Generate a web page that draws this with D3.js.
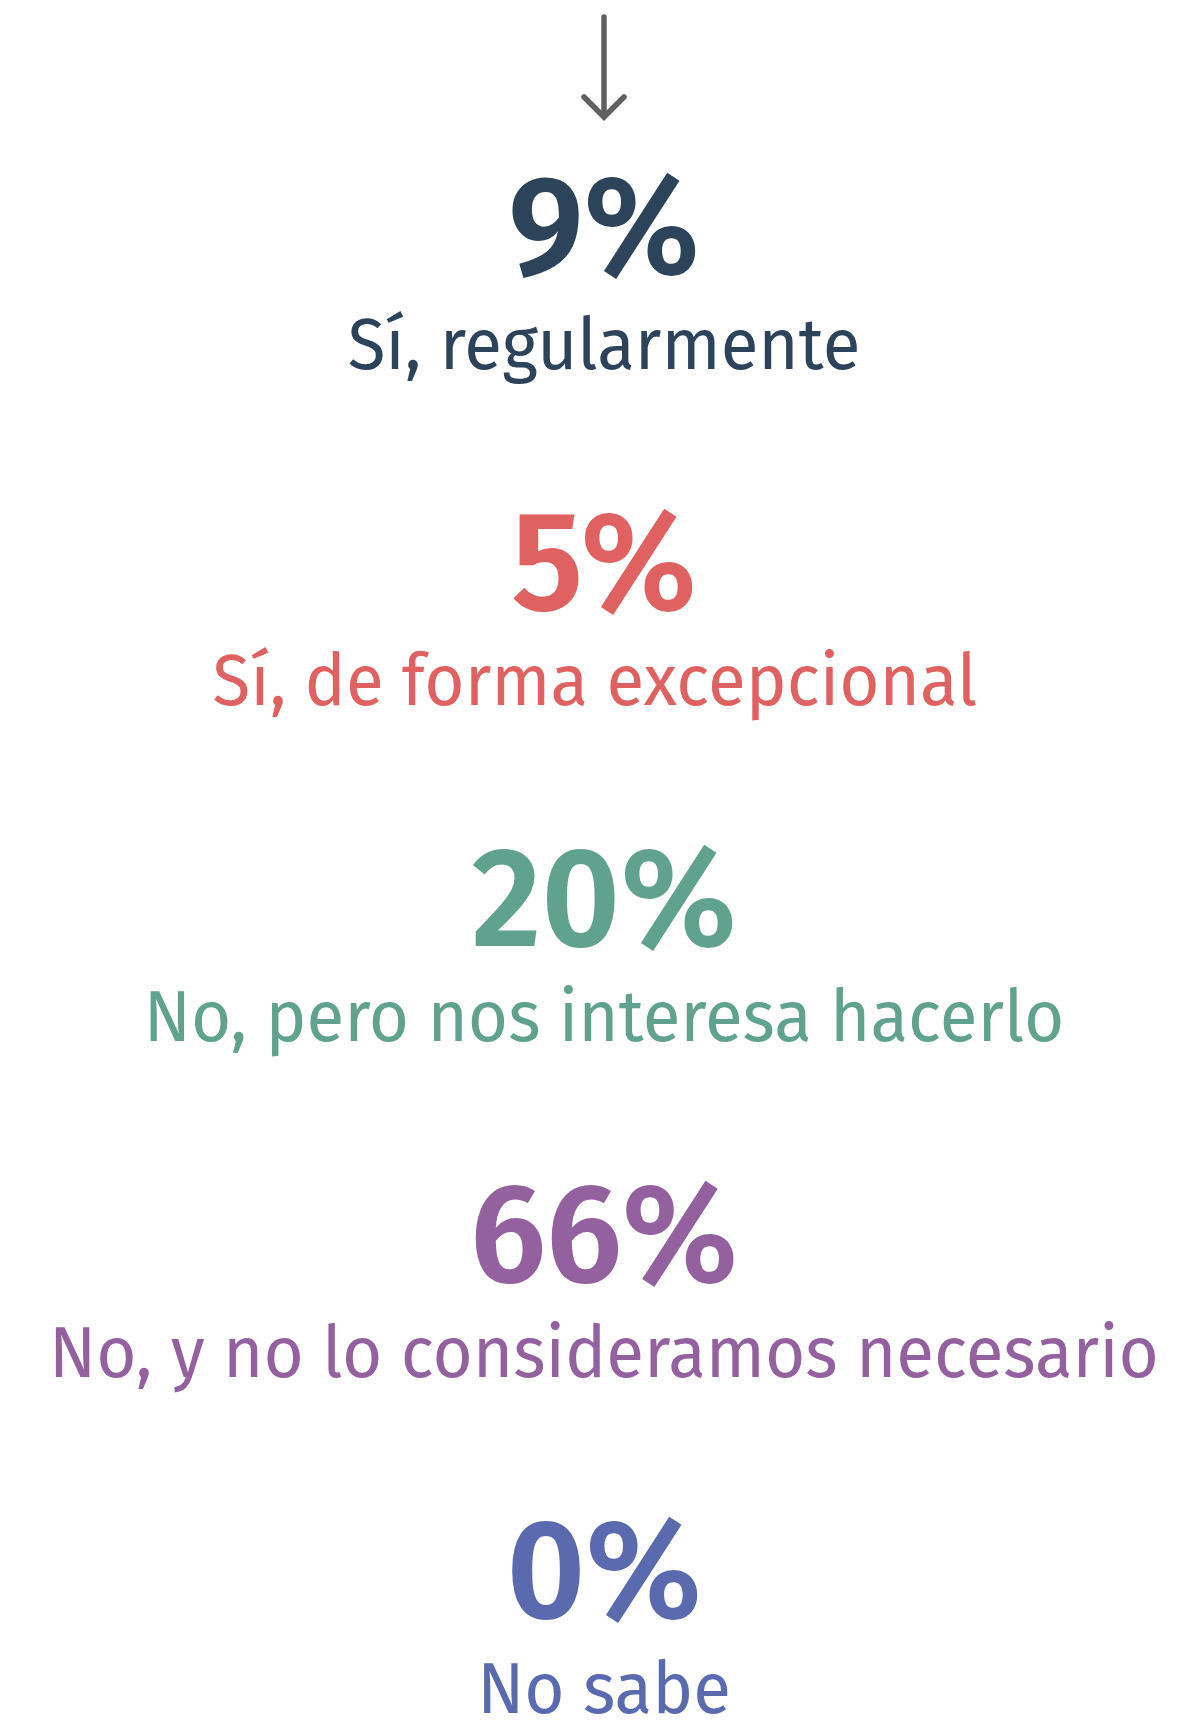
<!DOCTYPE html>
<html lang="es">
<head>
<meta charset="utf-8">
<title>Sí / No</title>
<script src="https://cdn.jsdelivr.net/npm/d3@7"></script>
<style>
    html, body { margin: 0; padding: 0; background: #fff; }
    #chart svg { display: block; }
    .pct { font-family: "Fira Sans", "Noto Sans", sans-serif; font-weight: 600; }
    .label { font-family: "Fira Sans", "Noto Sans", sans-serif; font-weight: 400; white-space: pre; }
</style>
</head>
<body>
<div id="chart"></div>
<script>
// Data (the second answer carries a trailing space in the source, which shifts it left a bit)
const answers = ["Sí, regularmente", "Sí, de forma excepcional\u00a0", "No, pero nos interesa hacerlo", "No, y no lo consideramos necesario", "No sabe"];
const shares = [9, 5, 20, 66, 0];
const palette = ["#2d4359", "#e06161", "#60a28d", "#93629e", "#5b6aae"];

const Chart = (function(window, d3) {
    const svgWidth = 1178,
        svgHeight = 1720,
        centerX = 604,
        labelGap = 95;
    // widest label / number in the reference, used to get the narrow typeface look
    const labelFit = 1110,
        pctFit = 268;

    const svg = d3.select("#chart")
        .append("svg")
        .attr("width", svgWidth)
        .attr("height", svgHeight);

    // vertical position of each block (baseline of the big number)
    const y = d3.scalePoint()
        .domain(answers)
        .range([274, 1618]);

    const color = d3.scaleOrdinal()
        .domain(answers)
        .range(palette);

    // Arrow on top
    const arrow = svg.append("g")
        .attr("stroke", "#5f5f5f")
        .attr("stroke-width", 5.5)
        .attr("stroke-linecap", "round")
        .attr("fill", "none");
    arrow.append("line")
        .attr("x1", centerX).attr("x2", centerX)
        .attr("y1", 17).attr("y2", 115);
    arrow.append("polyline")
        .attr("points", [[centerX - 20, 97], [centerX, 117], [centerX + 20, 97]].join(" "));

    const rows = answers.map(function(d, i) { return { answer: d, value: shares[i] }; });

    const block = svg.selectAll(".block")
        .data(rows)
        .join("g")
        .attr("class", "block")
        .attr("fill", function(d) { return color(d.answer); });

    // big number
    const pct = block.append("text")
        .attr("class", "pct")
        .attr("text-anchor", "middle")
        .attr("font-size", 140)
        .text(function(d) { return d.value + "%"; });

    // answer below
    const label = block.append("text")
        .attr("class", "label")
        .attr("text-anchor", "middle")
        .attr("font-size", 72.6)
        .text(function(d) { return d.answer; });

    // Function - squeeze texts horizontally so the widest one fits the reference width
    function fit(sel, target, dy) {
        const widest = d3.max(sel.nodes(), function(n) { return n.getComputedTextLength(); });
        const k = Math.min(1, target / widest);
        sel.attr("transform", function(d) {
            return `translate(${centerX},${y(d.answer) + dy}) scale(${k},1)`;
        });
    }

    fit(pct, pctFit, 0);
    fit(label, labelFit, labelGap);

    return { svg: svg };
})(window, d3);
</script>
</body>
</html>
